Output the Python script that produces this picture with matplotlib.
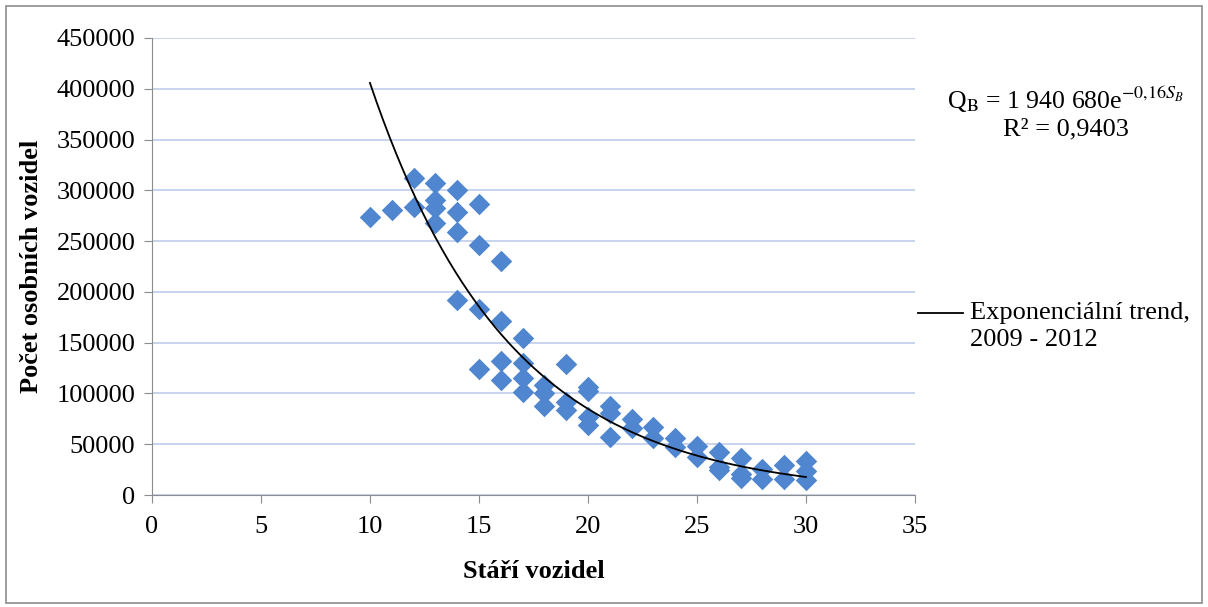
import numpy as np
import matplotlib.pyplot as plt
from matplotlib.patches import Rectangle

plt.rcParams['font.family'] = ['Liberation Serif', 'DejaVu Serif']
plt.rcParams['mathtext.fontset'] = 'stix'

# stari vozidel (roky) a pocet osobnich vozidel, 2009 - 2012
stari = [10, 11,
         12, 12,
         13, 13, 13, 13,
         14, 14, 14, 14,
         15, 15, 15, 15,
         16, 16, 16, 16,
         17, 17, 17, 17,
         18, 18, 18,
         19, 19, 19,
         20, 20, 20, 20,
         21, 21, 21,
         22, 22,
         23, 23,
         24, 24,
         25, 25,
         26, 26, 26,
         27, 27, 27,
         28, 28,
         29, 29,
         30, 30, 30]
pocet = [273700, 280600,
         312000, 284000,
         307000, 290000, 283000, 268000,
         300000, 279000, 259000, 192000,
         287000, 246000, 183000, 124000,
         230000, 171000, 132000, 113000,
         155000, 130000, 115000, 101000,
         108000, 100000, 88000,
         129000, 92000, 84000,
         106000, 102000, 77000, 69000,
         88000, 81000, 57000,
         75000, 66000,
         67000, 56000,
         56000, 47000,
         48000, 37000,
         42000, 28000, 25000,
         36000, 21000, 17000,
         26000, 16000,
         29500, 16000,
         33000, 24000, 14500]

# exponencialni trend Q = a * exp(b * S), b zaokrouhleno v rovnici na -0,16
koef_a = 1940680
koef_b = -0.1565

fs = 19

fig = plt.figure(figsize=(12.08, 6.07), dpi=100)
ax = fig.add_axes([0.1258, 0.1845, 0.6316, 0.7529])

ax.scatter(stari, pocet, marker='D', s=120, color='#4f86cf', zorder=3, linewidths=0)

s = np.linspace(10, 30, 200)
ax.plot(s, koef_a * np.exp(koef_b * s), color='black', lw=1.3, zorder=4)

ax.set_xlim(0, 35)
ax.set_ylim(0, 450000)
ax.set_xticks(np.arange(0, 36, 5))
ax.set_yticks(np.arange(0, 450001, 50000))
ax.yaxis.grid(True, color='#c3d1ec', lw=1.3)
ax.set_axisbelow(True)
for side in ['top', 'right']:
    ax.spines[side].set_visible(False)
for side in ['left', 'bottom']:
    ax.spines[side].set_color('#8c8c8c')
ax.tick_params(axis='both', labelsize=fs, colors='#8c8c8c', labelcolor='black',
               length=6, direction='out')
ax.tick_params(axis='y', pad=6)
ax.tick_params(axis='x', pad=9)

ax.set_xlabel('Stáří vozidel', fontsize=fs, fontweight='bold', labelpad=16)
ax.set_ylabel('Počet osobních vozidel', fontsize=fs, fontweight='bold', labelpad=10)

# rovnice trendu
fig.text(1065 / 1208, 1 - 100 / 607,
         r'Q$_\mathrm{B}$ = 1 940 680e$^{\mathrm{-0{,}16}S_B}$',
         fontsize=18.5, ha='center', va='center')
fig.text(1066 / 1208, 1 - 129 / 607, 'R² = 0,9403',
         fontsize=fs, ha='center', va='center')

# legenda
fig.add_artist(plt.Line2D([918 / 1208, 963 / 1208], [1 - 313 / 607, 1 - 313 / 607],
                          color='black', lw=1.3))
fig.text(970 / 1208, 1 - 313 / 607, 'Exponenciální trend,', fontsize=fs,
         ha='left', va='center')
fig.text(970 / 1208, 1 - 340 / 607, '2009 - 2012', fontsize=fs,
         ha='left', va='center')

fig.add_artist(Rectangle((6 / 1208, 4 / 607), 1196 / 1208, 597 / 607,
                         transform=fig.transFigure, fill=False,
                         edgecolor='#8c8c8c', lw=1.2))

fig.savefig('out.png', dpi=100)
